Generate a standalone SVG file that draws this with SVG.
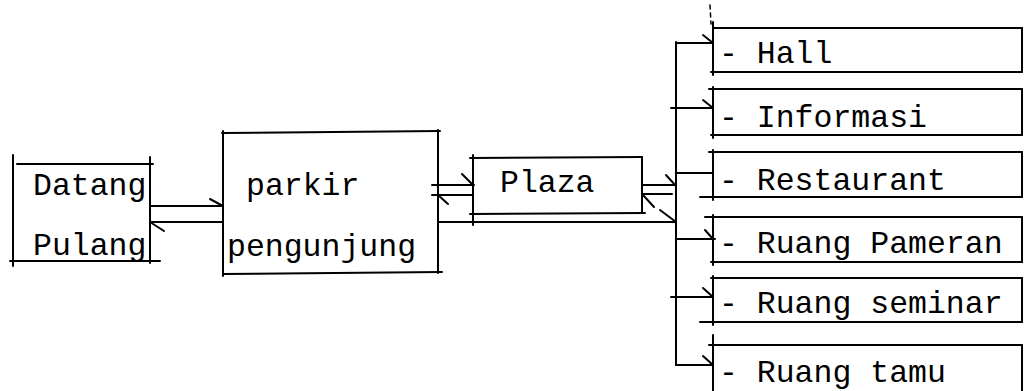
<svg xmlns="http://www.w3.org/2000/svg" width="1024" height="391" viewBox="0 0 1024 391">
<style>
line,polyline{stroke:#000;stroke-width:2;stroke-linecap:round;fill:none}
text{font-family:"Liberation Mono","DejaVu Sans Mono",monospace;font-size:31.5px;fill:#000}
.dash{stroke-dasharray:4 4;stroke-width:1.5}
</style>
<rect width="1024" height="391" fill="#fff"/>
<g id="datang-pulang">
<line x1="13" y1="155" x2="13" y2="266"/>
<line x1="17" y1="164" x2="153" y2="164"/>
<line x1="150" y1="157" x2="150" y2="263"/>
<line x1="10" y1="261" x2="160" y2="261"/>
<text x="33" y="195">Datang</text>
<text x="33" y="255">Pulang</text>
</g>
<g id="parkir">
<line x1="223" y1="131" x2="223" y2="276"/>
<line x1="222" y1="133" x2="440" y2="131"/>
<line x1="438" y1="130" x2="438" y2="273"/>
<line x1="223" y1="274" x2="442" y2="272"/>
<text x="246" y="195">parkir</text>
<text x="227" y="256">pengunjung</text>
</g>
<g id="plaza">
<line x1="473" y1="155" x2="473" y2="225"/>
<line x1="470" y1="158" x2="642" y2="157"/>
<line x1="642" y1="157" x2="642" y2="213"/>
<line x1="470" y1="214" x2="645" y2="213"/>
<text x="500" y="192">Plaza</text>
</g>
<g id="hall">
<line x1="713" y1="22" x2="713" y2="75"/>
<line x1="713" y1="28" x2="1022" y2="28"/>
<line x1="1022" y1="28" x2="1022" y2="72"/>
<line x1="711" y1="72" x2="1022" y2="72"/>
<text x="719" y="63">- Hall</text>
</g>
<g id="informasi">
<line x1="713" y1="87" x2="713" y2="138"/>
<line x1="709" y1="89" x2="1022" y2="89"/>
<line x1="1022" y1="89" x2="1022" y2="135"/>
<line x1="711" y1="135" x2="1022" y2="135"/>
<text x="719" y="127">- Informasi</text>
</g>
<g id="restaurant">
<line x1="713" y1="150" x2="713" y2="200"/>
<line x1="709" y1="152" x2="1022" y2="152"/>
<line x1="1022" y1="152" x2="1022" y2="197"/>
<line x1="700" y1="197" x2="1022" y2="197"/>
<text x="719" y="190">- Restaurant</text>
</g>
<g id="ruang-pameran">
<line x1="713" y1="215" x2="713" y2="265"/>
<line x1="705" y1="217" x2="1022" y2="217"/>
<line x1="1022" y1="217" x2="1022" y2="262"/>
<line x1="711" y1="262" x2="1022" y2="262"/>
<text x="719" y="253">- Ruang Pameran</text>
</g>
<g id="ruang-seminar">
<line x1="713" y1="276" x2="713" y2="325"/>
<line x1="711" y1="278" x2="1022" y2="278"/>
<line x1="1022" y1="278" x2="1022" y2="322"/>
<line x1="700" y1="322" x2="1022" y2="322"/>
<text x="719" y="313">- Ruang seminar</text>
</g>
<g id="ruang-tamu">
<line x1="713" y1="335" x2="713" y2="391"/>
<line x1="709" y1="345" x2="1022" y2="345"/>
<line x1="1022" y1="345" x2="1022" y2="391"/>
<text x="719" y="382">- Ruang tamu</text>
</g>
<g id="connectors">
<line class="dash" x1="710" y1="5" x2="711" y2="24"/>
<line x1="150" y1="206" x2="223" y2="206"/>
<line x1="210" y1="199" x2="223" y2="206"/>
<line x1="150" y1="222" x2="223" y2="222"/>
<line x1="150" y1="222" x2="164" y2="231"/>
<line x1="432" y1="185" x2="474" y2="185"/>
<line x1="462" y1="174" x2="473" y2="185"/>
<line x1="432" y1="195" x2="472" y2="195"/>
<line x1="438" y1="195" x2="448" y2="204"/>
<line x1="438" y1="222" x2="676" y2="222"/>
<line x1="642" y1="185" x2="676" y2="185"/>
<line x1="666" y1="175" x2="676" y2="186"/>
<line x1="642" y1="194" x2="672" y2="194"/>
<line x1="643" y1="195" x2="654" y2="207"/>
<line x1="660" y1="210" x2="676" y2="222"/>
<line x1="676" y1="42" x2="676" y2="365"/>
<line x1="676" y1="43" x2="713" y2="43"/>
<line x1="703" y1="35" x2="713" y2="43"/>
<line x1="671" y1="108" x2="713" y2="108"/>
<line x1="703" y1="100" x2="713" y2="108"/>
<line x1="676" y1="173" x2="713" y2="173"/>
<line x1="676" y1="239" x2="715" y2="239"/>
<line x1="705" y1="230" x2="713" y2="239"/>
<line x1="671" y1="297" x2="713" y2="297"/>
<line x1="703" y1="288" x2="713" y2="297"/>
<line x1="676" y1="365" x2="713" y2="365"/>
<line x1="703" y1="356" x2="713" y2="365"/>
</g>
</svg>
